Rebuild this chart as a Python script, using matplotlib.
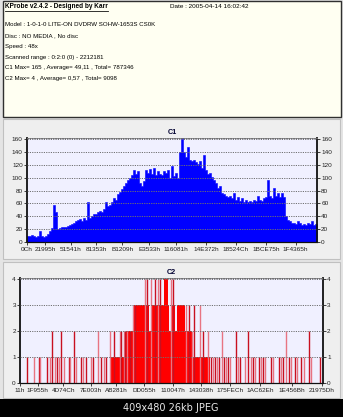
import numpy as np
import matplotlib
matplotlib.use("Agg")
import matplotlib.pyplot as plt
from matplotlib.patches import Rectangle
from matplotlib.lines import Line2D

W, H = 343, 417

# header texts
title = "KProbe v2.4.2 - Designed by Karr"
date_text = "Date : 2005-04-14 16:02:42"
info_lines = [
    "Model : 1-0-1-0 LITE-ON DVDRW SOHW-1653S CS0K",
    "Disc : NO MEDIA , No disc",
    "Speed : 48x",
    "Scanned range : 0:2:0 (0) - 2212181",
    "C1 Max= 165 , Average= 49,11 , Total= 787346",
    "C2 Max= 4 , Average= 0,57 , Total= 9098",
]
footer = "409x480 26kb JPEG"

scan_end = 2212181

# C1 x ticks
c1_tick_labels = ["0Ch", "21995h", "51541h", "81353h", "B1209h", "E3533h",
                  "116081h", "14E372h", "18524Ch", "1BCE75h", "1F4365h"]
c1_yticks = [0, 20, 40, 60, 80, 100, 120, 140, 160]

# C1 errors, read left to right (equal slices of the scanned range)
c1_values = [
    10, 9, 11, 9, 8, 10, 17, 9, 8, 10, 13, 17, 22, 58, 47, 20, 22, 23, 24, 24,
    25, 27, 28, 30, 32, 34, 36, 33, 37, 35, 62, 38, 40, 43, 44, 46, 48, 47, 52, 62,
    56, 58, 62, 68, 66, 74, 78, 82, 88, 92, 96, 100, 104, 112, 106, 110, 92, 88, 95, 112,
    108, 114, 106, 116, 104, 110, 106, 104, 110, 108, 112, 100, 118, 103, 108, 100, 140, 165, 140, 132,
    148, 128, 126, 128, 124, 122, 126, 116, 135, 112, 106, 108, 102, 96, 92, 84, 88, 76, 74, 72,
    70, 72, 68, 76, 66, 70, 64, 68, 62, 66, 62, 64, 62, 66, 64, 72, 66, 64, 68, 70,
    96, 72, 68, 84, 72, 76, 70, 76, 70, 40, 34, 32, 29, 30, 28, 32, 29, 27, 28, 26,
    30, 28, 32, 27, 28,
]

# C2 x ticks
c2_tick_labels = ["11h", "1F955h", "4D74Ch", "7E003h", "AB281h", "DD055h",
                  "110047h", "143038h", "175FECh", "1AC62Eh", "1E456Bh", "21975Dh"]
c2_yticks = [0, 1, 2, 3, 4]

# C2 dense blocks (LBA in thousands)
c2_block_start = [667, 775, 830, 959, 1100, 1149, 1051]
c2_block_end = [1385, 1255, 939, 1085, 1129, 1205, 1081]
c2_block_level = [1, 2, 3, 3, 3, 3, 4]

# C2 single spikes (LBA in thousands)
c2_spike_pos = [
    53.5, 104.6, 136.3, 146.0, 199.6, 216.6, 236.1, 258.0, 272.6, 282.3,
    301.8, 321.3, 355.3, 365.1, 391.8, 411.3, 447.8, 462.4, 479.4, 520.8,
    533.0, 571.9, 589.0, 610.9, 625.5, 657.1,
    686.3, 727.7, 739.8, 759.3, 769.0, 783.7, 800.7, 825.0, 837.2, 910.2,
    929.7, 954.0, 983.2, 1007.6, 1022.2, 1100.0, 1117.1, 1214.4, 1231.5, 1255.8,
    1270.4, 1311.8, 1336.1, 1372.6,
    1397.0, 1411.6, 1426.2, 1440.8, 1455.4, 1474.8, 1489.4, 1504.0, 1518.6, 1533.2,
    1579.5, 1591.6, 1606.2, 1640.3, 1664.7, 1689.0, 1703.6, 1718.2, 1742.5, 1757.1,
    1774.2, 1791.2, 1835.0, 1849.6, 1888.6, 1903.2, 1920.2, 1944.5, 1961.6, 1981.0,
    2005.4, 2024.8, 2049.2, 2073.5, 2110.0, 2122.2, 2188.1,
]
c2_spike_val = [
    1, 1, 1, 1, 1, 1, 2, 1, 1, 1,
    2, 1, 1, 1, 2, 1, 1, 1, 1, 1,
    1, 2, 1, 1, 1, 2,
    2, 2, 2, 2, 2, 2, 2, 3, 3, 4,
    4, 4, 4, 4, 4, 4, 4, 3, 3, 2,
    3, 3, 2, 2,
    1, 1, 1, 1, 1, 2, 1, 1, 1, 1,
    2, 1, 1, 1, 2, 1, 1, 1, 1, 1,
    1, 1, 1, 1, 1, 1, 1, 2, 1, 1,
    1, 1, 1, 1, 2, 1, 1,
]


def rect(x0, y0, x1, y1):
    # pixel box -> figure fraction
    return [x0 / W, 1 - y1 / H, (x1 - x0) / W, (y1 - y0) / H]


def box(fig, x0, y0, x1, y1, face, edge, lw=0.8):
    r = Rectangle((x0 / W, 1 - y1 / H), (x1 - x0) / W, (y1 - y0) / H,
                  transform=fig.transFigure, facecolor=face, edgecolor=edge,
                  linewidth=lw, zorder=-5)
    fig.patches.append(r)


def hex_ticks(labels):
    return [int(s[:-1], 16) for s in labels]


def style_axes(ax, yticks, ylim):
    ax.set_zorder(3)
    ax.set_facecolor("#f0f0ff")
    ax.set_xlim(0, scan_end)
    ax.set_ylim(*ylim)
    ax.set_yticks(yticks)
    ax.yaxis.grid(True, color="#707070", linestyle=(0, (1.2, 1.2)), linewidth=0.7)
    ax.set_axisbelow(False)
    for s in ["left", "right", "bottom"]:
        ax.spines[s].set_color("#101010")
    ax.spines["left"].set_linewidth(1.3)
    ax.spines["right"].set_linewidth(1.3)
    ax.spines["bottom"].set_linewidth(0.9)
    ax.spines["top"].set_color("#707070")
    ax.spines["top"].set_linestyle((0, (1.2, 1.2)))
    ax.spines["top"].set_linewidth(0.7)
    ax.tick_params(axis="y", which="both", left=True, right=True, labelright=True,
                   length=2, width=0.6, pad=1, labelsize=4.6, colors="#202020")
    ax.tick_params(axis="x", length=2, width=0.6, pad=1.5, labelsize=4.6,
                   colors="#202020")


plt.rcParams["font.family"] = ["Liberation Sans", "DejaVu Sans"]

fig = plt.figure(figsize=(W / 100, H / 100), dpi=100)
fig.patch.set_facecolor("#e4e4e4")

# header box
box(fig, 2.5, 1.5, 340.5, 116.5, "#fffff2", "#303030", 1.0)
t = fig.text(5 / W, 1 - 7 / H, title, fontsize=4.7, fontweight="bold",
             va="center", ha="left", color="#000000")
fig.text(170 / W, 1 - 7 / H, date_text, fontsize=4.6, va="center", ha="left",
         color="#000000")
for i, line in enumerate(info_lines):
    fig.text(5 / W, 1 - (25 + 10.75 * i) / H, line, fontsize=4.4,
             va="center", ha="left", color="#000000")

# panels
box(fig, 3.5, 119.5, 339.5, 258.5, "#efefef", "#c0c0c0", 0.8)
box(fig, 3.5, 261.5, 339.5, 397.5, "#efefef", "#c0c0c0", 0.8)
box(fig, 0, 399, W, H, "#000000", "#000000", 0.0)
fig.text(171 / W, 1 - 408 / H, footer, fontsize=7, color="#e8e8e8",
         ha="center", va="center", family="DejaVu Sans")

# C1
ax1 = fig.add_axes(rect(27, 138, 317, 242))
edges = np.linspace(0, scan_end, len(c1_values) + 1)
ax1.fill_between(edges, np.r_[c1_values, c1_values[-1]], step="post",
                 color="#0000ff", linewidth=0.4, edgecolor="#0000ff")
style_axes(ax1, c1_yticks, (0, 162))
ax1.set_xticks(hex_ticks(c1_tick_labels))
ax1.set_xticklabels(c1_tick_labels)
ax1.set_title("C1", fontsize=5.2, fontweight="bold", color="#000030", pad=3)

# C2
ax2 = fig.add_axes(rect(20, 278, 323, 383))
for s, e, lv in zip(c2_block_start, c2_block_end, c2_block_level):
    ax2.bar(s * 1000, lv, width=(e - s) * 1000, align="edge",
            color="#ff0000", linewidth=0)
spike_colors = ["#c81020" if i % 2 == 0 else "#e87482" for i in range(len(c2_spike_pos))]
ax2.vlines(np.array(c2_spike_pos) * 1000, 0, c2_spike_val, colors=spike_colors,
           linewidth=1.0)
style_axes(ax2, c2_yticks, (0, 4.02))
ax2.set_xticks(hex_ticks(c2_tick_labels))
ax2.set_xticklabels(c2_tick_labels)
ax2.set_title("C2", fontsize=5.2, fontweight="bold", color="#000030", pad=3)

# underline the header title
fig.canvas.draw()
bb = t.get_window_extent().transformed(fig.transFigure.inverted())
fig.add_artist(Line2D([bb.x0, bb.x1], [bb.y0 - 0.6 / H, bb.y0 - 0.6 / H],
                      transform=fig.transFigure, color="#101010", linewidth=0.6))

fig.savefig("out.png", dpi=100, facecolor=fig.get_facecolor())
